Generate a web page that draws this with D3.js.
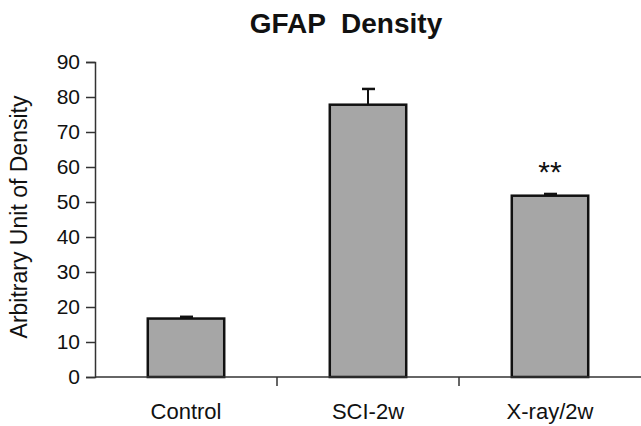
<!DOCTYPE html>
<html>
<head>
  <title>GFAP Density</title>
  <script src="https://d3js.org/d3.v7.min.js"></script>
  <style>
    body { margin: 0; background: #fff; }
    text { font-family: "Liberation Sans", Arial, sans-serif; fill: #111; }
  </style>
</head>
<body>
<script>
// data
const categories = ["Control", "SCI-2w", "X-ray/2w"];
const means = [16.7, 77.8, 51.8];
const errors = [0.5, 4.5, 0.5];
const marks = ["", "", "**"];
const yTicks = [0, 10, 20, 30, 40, 50, 60, 70, 80, 90];

const W = 641, H = 426;
const margin = { top: 62, right: 0, bottom: 49, left: 95 };

const svg = d3.select("body").append("svg")
  .attr("width", W).attr("height", H);

const x = d3.scaleBand()
  .domain(categories)
  .range([margin.left, W - margin.right])
  .padding(0);

const y = d3.scaleLinear()
  .domain([0, 90])
  .range([H - margin.bottom, margin.top]);

const barW = x.bandwidth() * 0.42;

// title
svg.append("text")
  .attr("x", 346).attr("y", 33)
  .attr("text-anchor", "middle")
  .style("font-size", "28px").style("font-weight", "bold")
  .style("white-space", "pre")
  .text("GFAP  Density");

// y axis
const yAxis = svg.append("g")
  .attr("transform", `translate(${margin.left},0)`)
  .call(d3.axisLeft(y).tickValues(yTicks).tickSize(9).tickPadding(6));
yAxis.select(".domain").attr("stroke", "#333").attr("stroke-width", 1.5);
yAxis.selectAll(".tick line").attr("stroke", "#333").attr("stroke-width", 1.5);
yAxis.selectAll(".tick text").style("font-size", "21px").attr("fill", "#111");

// y axis label
svg.append("text")
  .attr("transform", "translate(27,217) rotate(-90)")
  .attr("text-anchor", "middle")
  .style("font-size", "23px")
  .text("Arbitrary Unit of Density");

// bars
svg.selectAll(".bar")
  .data(categories)
  .enter().append("rect")
  .attr("class", "bar")
  .attr("x", d => x(d) + (x.bandwidth() - barW) / 2)
  .attr("width", barW)
  .attr("y", (d, i) => y(means[i]))
  .attr("height", (d, i) => y(0) - y(means[i]))
  .attr("fill", "#a6a6a6")
  .attr("stroke", "#111")
  .attr("stroke-width", 2.5);

// error bars (upper only)
const eb = svg.selectAll(".err")
  .data(categories)
  .enter().append("g")
  .attr("class", "err");
eb.append("line")
  .attr("x1", d => x(d) + x.bandwidth() / 2)
  .attr("x2", d => x(d) + x.bandwidth() / 2)
  .attr("y1", (d, i) => y(means[i]))
  .attr("y2", (d, i) => y(means[i] + errors[i]))
  .attr("stroke", "#111").attr("stroke-width", 2);
eb.append("line")
  .attr("x1", d => x(d) + x.bandwidth() / 2 - 6)
  .attr("x2", d => x(d) + x.bandwidth() / 2 + 7)
  .attr("y1", (d, i) => y(means[i] + errors[i]))
  .attr("y2", (d, i) => y(means[i] + errors[i]))
  .attr("stroke", "#111").attr("stroke-width", 2.5);

// significance marks
svg.selectAll(".sig")
  .data(categories)
  .enter().append("text")
  .attr("class", "sig")
  .attr("x", d => x(d) + x.bandwidth() / 2)
  .attr("y", (d, i) => y(means[i] + errors[i]) - 12)
  .attr("text-anchor", "middle")
  .style("font-size", "30px")
  .attr("fill", "#333")
  .text((d, i) => marks[i]);

// x axis
const xAxis = svg.append("g")
  .attr("transform", `translate(0,${y(0)})`);
xAxis.append("line")
  .attr("x1", margin.left).attr("x2", W - margin.right)
  .attr("stroke", "#333").attr("stroke-width", 1.5);
xAxis.selectAll(".xtick")
  .data(categories.slice(1))
  .enter().append("line")
  .attr("x1", d => x(d)).attr("x2", d => x(d))
  .attr("y1", 0).attr("y2", 9)
  .attr("stroke", "#333").attr("stroke-width", 1.5);
xAxis.selectAll(".xlabel")
  .data(categories)
  .enter().append("text")
  .attr("x", d => x(d) + x.bandwidth() / 2)
  .attr("y", 42)
  .attr("text-anchor", "middle")
  .style("font-size", "22px")
  .text(d => d);
</script>
</body>
</html>
